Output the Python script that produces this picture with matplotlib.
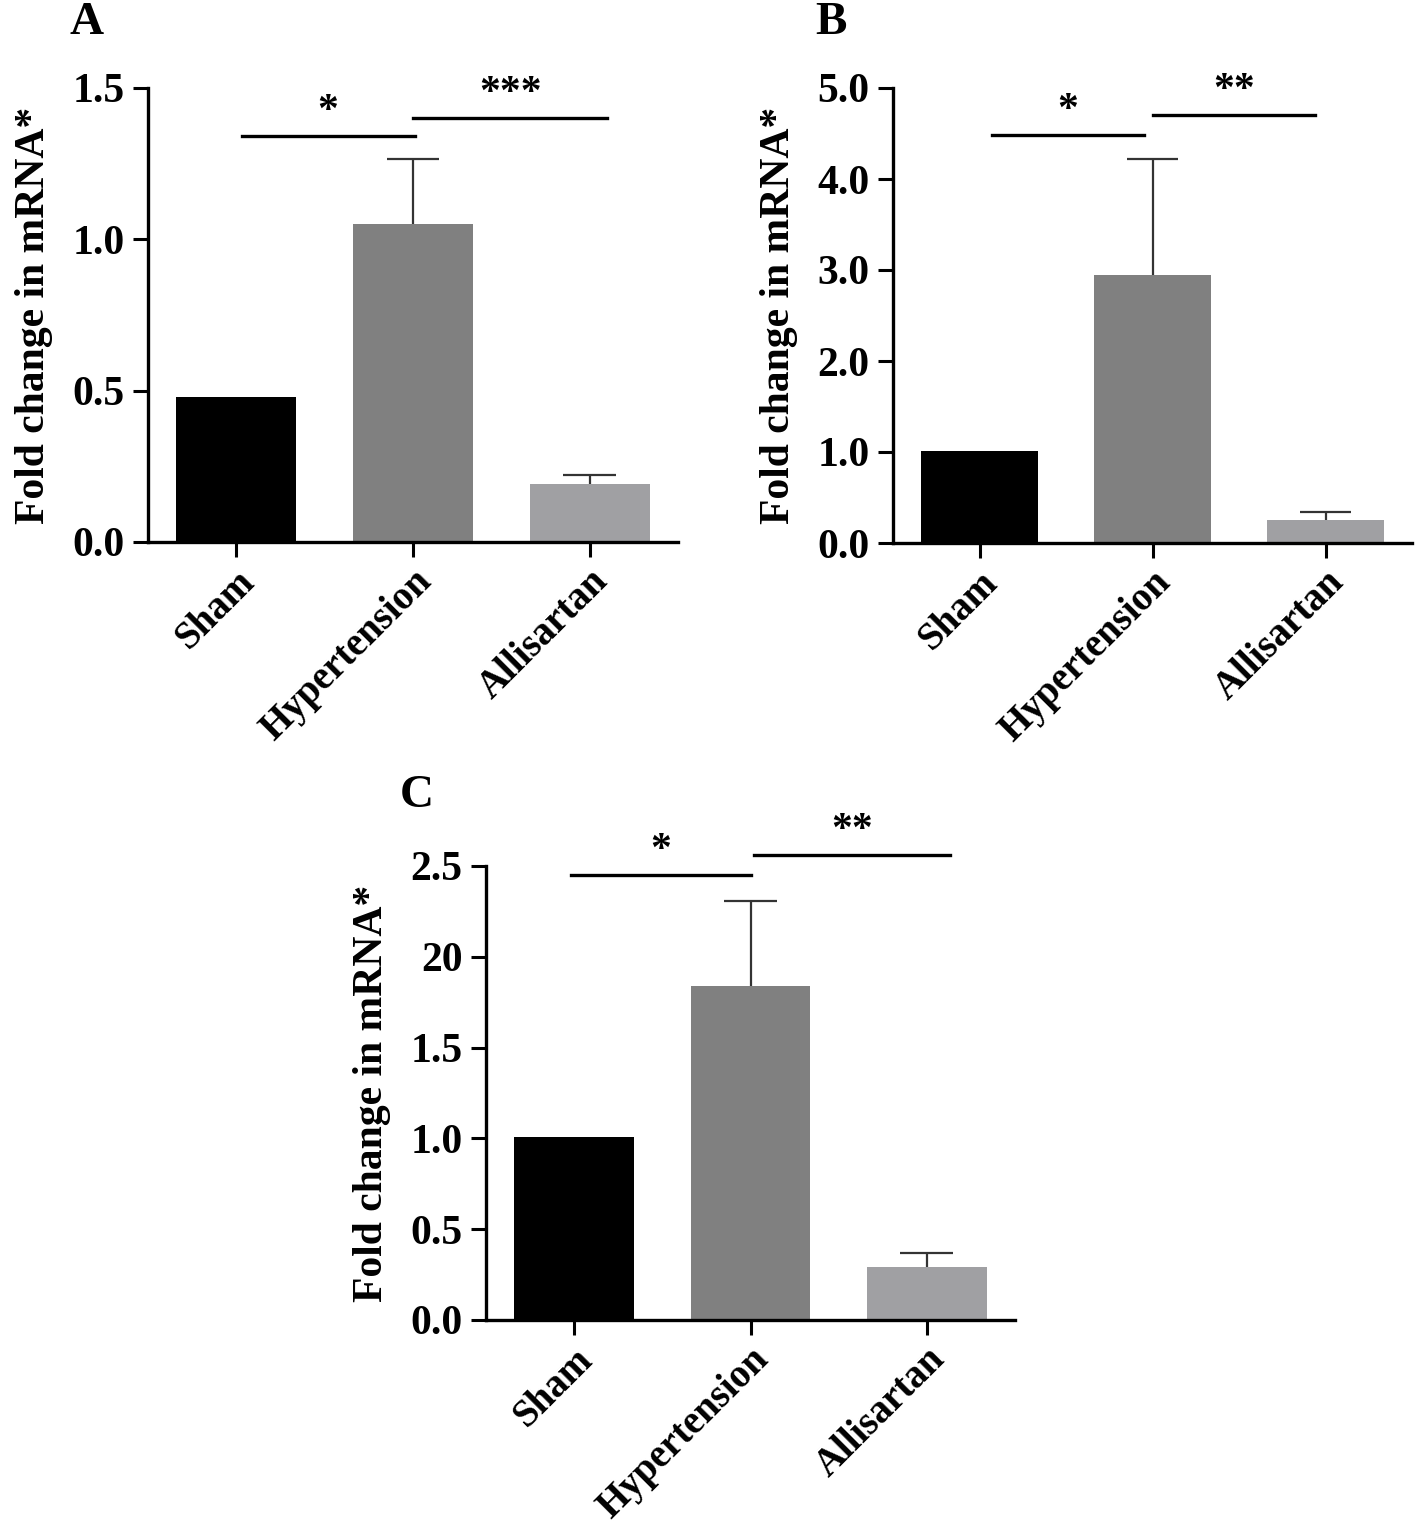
import matplotlib
matplotlib.use("Agg")
import matplotlib.pyplot as plt
import numpy as np

plt.rcParams['font.family'] = ['Liberation Serif', 'DejaVu Serif']
plt.rcParams['font.weight'] = 'bold'

categories = ["Sham", "Hypertension", "Allisartan"]
colors = ["#000000", "#808080", "#a0a0a3"]

# Panel A
a_vals = [0.48, 1.05, 0.19]
a_err = [0.0, 0.215, 0.03]
a_ticks = [0.0, 0.5, 1.0, 1.5]
a_ticklabels = ["0.0", "0.5", "1.0", "1.5"]
a_sig = [(0.03, 1.01, 1.34, "*"), (1.0, 2.1, 1.40, "***")]

# Panel B
b_vals = [1.01, 2.94, 0.25]
b_err = [0.0, 1.28, 0.09]
b_ticks = [0.0, 1.0, 2.0, 3.0, 4.0, 5.0]
b_ticklabels = ["0.0", "1.0", "2.0", "3.0", "4.0", "5.0"]
b_sig = [(0.07, 0.95, 4.48, "*"), (1.0, 1.94, 4.70, "**")]

# Panel C
c_vals = [1.01, 1.84, 0.29]
c_err = [0.0, 0.47, 0.08]
c_ticks = [0.0, 0.5, 1.0, 1.5, 2.0, 2.5]
c_ticklabels = ["0.0", "0.5", "1.0", "1.5", "20", "2.5"]
c_sig = [(-0.02, 1.0, 2.45, "*"), (1.02, 2.13, 2.56, "**")]

W, H = 1418, 1526
fig = plt.figure(figsize=(W / 100, H / 100), dpi=100)


def panel(rect, vals, errs, ticks, ticklabels, sig, letter, ymax, letter_xy):
    ax = fig.add_axes(rect)
    x = np.arange(len(categories))
    ax.bar(x, vals, width=0.68, color=colors, edgecolor='none', zorder=2)
    for xi, v, e in zip(x, vals, errs):
        if e > 0:
            ax.vlines(xi, v - ymax * 0.004, v + e, color='#333333', lw=1.6, zorder=1)
            ax.hlines(v + e, xi - 0.15, xi + 0.15, color='#333333', lw=1.6, zorder=1)
    ax.set_xlim(-0.5, 2.5)
    ax.set_ylim(0, ymax)
    ax.set_yticks(ticks)
    ax.set_yticklabels(ticklabels, fontsize=30, fontweight='bold')
    ax.set_xticks(x)
    ax.set_xticklabels(categories, rotation=45, ha='right', rotation_mode='anchor',
                       fontsize=28, fontweight='bold')
    ax.spines['top'].set_visible(False)
    ax.spines['right'].set_visible(False)
    ax.spines['left'].set_linewidth(2.4)
    ax.spines['bottom'].set_linewidth(2.4)
    ax.tick_params(axis='y', direction='out', length=11, width=2.2, pad=6)
    ax.tick_params(axis='x', direction='out', length=11, width=2.2, pad=4)
    ax.set_ylabel("Fold change in mRNA*", fontsize=30, fontweight='bold', labelpad=14)
    for x0, x1, y, s in sig:
        ax.plot([x0, x1], [y, y], color='black', lw=2.4, clip_on=False)
        ax.text((x0 + x1) / 2, y + ymax * 0.012, s, ha='center', va='bottom',
                fontsize=30, fontweight='bold', clip_on=False)
    fig.text(letter_xy[0], letter_xy[1], letter, fontsize=34, fontweight='bold',
             ha='left', va='top')
    return ax


def rect(l, r, t, b):
    return [l / W, 1 - b / H, (r - l) / W, (b - t) / H]


panel(rect(148, 678, 88, 542), a_vals, a_err, a_ticks, a_ticklabels, a_sig, "A", 1.5, (70 / W, 1 - 2 / H))
panel(rect(893, 1412, 88, 543), b_vals, b_err, b_ticks, b_ticklabels, b_sig, "B", 5.0, (815 / W, 1 - 2 / H))
panel(rect(486, 1015, 866, 1320), c_vals, c_err, c_ticks, c_ticklabels, c_sig, "C", 2.5, (400 / W, 1 - 775 / H))

fig.savefig("out.png", dpi=100, facecolor='white')
